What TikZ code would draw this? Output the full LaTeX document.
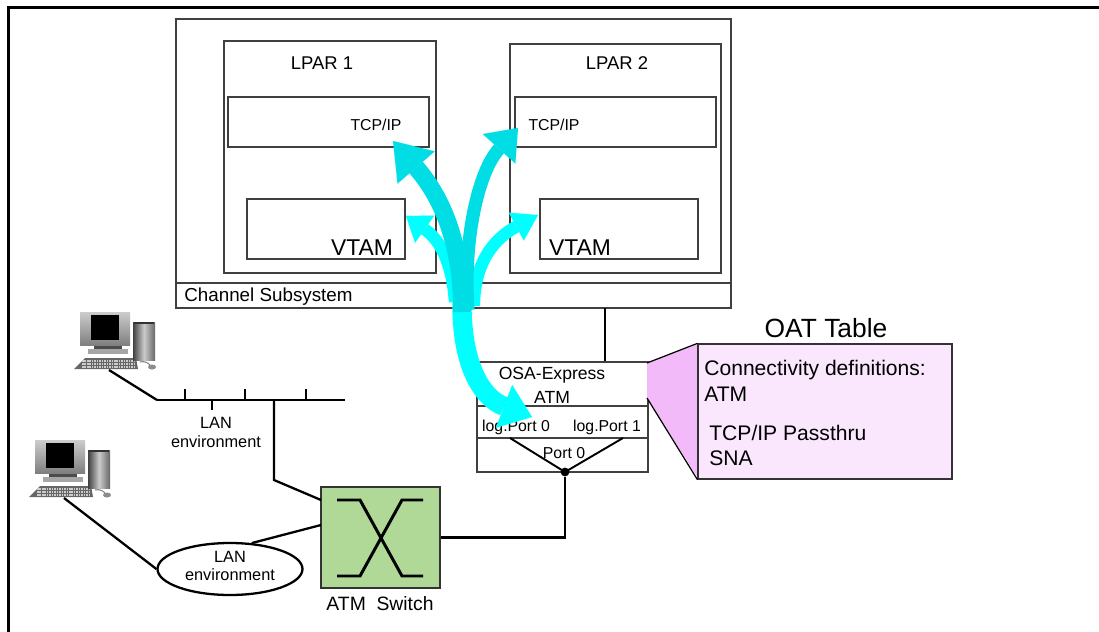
\documentclass[tikz,border=0pt]{standalone}
\usepackage{fontspec}
\setmainfont{Liberation Sans}
\usetikzlibrary{positioning,arrows.meta,fit,shapes.geometric}

\definecolor{flowdark}{RGB}{0,221,228}
\definecolor{flowlight}{RGB}{0,255,255}
\definecolor{switchgreen}{RGB}{176,216,150}
\definecolor{oatfill}{RGB}{250,231,253}
\definecolor{oatcallout}{RGB}{242,186,248}

\newcommand{\fsz}[2]{\fontsize{#1}{#2}\selectfont}

\begin{document}
\begin{tikzpicture}[
  x=0.02cm, y=-0.02cm,
  box/.style={draw=black!75, line width=0.6pt, inner sep=0pt},
  wire/.style={black, line width=1.3pt},
  txt/.style={inner sep=0pt, anchor=base, font=\fsz{10}{12}},
  flow/.style={line width=#1, line cap=butt},
  pc/.pic={
    % keyboard
    \fill[black!60] (-6,57) -- (58,57) -- (56,46) -- (5,46) -- cycle;
    \foreach \r in {49,52,55}
      \draw[black!20, line width=0.7pt, dash pattern=on 0.9pt off 0.5pt] (2,\r) -- (55,\r);
    % stand and base
    \fill[black!70] (14,33) rectangle (42,37);
    \fill[black!35] (8,37) rectangle (48,42);
    % monitor
    \shade[top color=black!20, bottom color=black!50] (0,0) rectangle (50,33);
    \fill[black] (11,3) rectangle (39,28);
    % tower
    \shade[left color=black!75, right color=black!60, middle color=black!20] (53,10) rectangle (75,48);
    \fill[black!80] (54,10) rectangle (74,12);
    % mouse
    \draw[black!50, line width=0.6pt] (60,50) to[bend left] (70,53);
    \fill[black!45] (72,55) ellipse (4 and 2.5);
    \coordinate (-cable) at (29,58);
  }
]
\useasboundingbox (0,0) rectangle (1099,632);
\draw[line width=1.8pt] (8.5,632) -- (8.5,7.5) -- (1099,7.5);

% ---------- host: channel subsystem and LPARs ----------
\node[box, fit={(176,19) (731,308)}] (css) {};
\draw[box] (176,283) -- (731,283);
\node[txt, anchor=base west, font=\fsz{10.7}{12}] (csslbl) at (184,301) {Channel Subsystem};

\node[box, fit={(224,41) (436,273)}] (lpar1) {};
\node[box, fit={(510,44) (721,273)}] (lpar2) {};
\node[txt, font=\fsz{10.5}{12}] (lpar1lbl) at (322,69) {LPAR 1};
\node[txt, font=\fsz{10.5}{12}] (lpar2lbl) at (617,69) {LPAR 2};

\node[box, fit={(228,97) (429,147)}] (tcp1) {};
\node[box, fit={(515,97) (716,147)}] (tcp2) {};
\node[txt, font=\fsz{9}{11}] (tcp1lbl) at (376,130) {TCP/IP};
\node[txt, font=\fsz{9}{11}] (tcp2lbl) at (554,130) {TCP/IP};

\node[box, fit={(247,199) (405,259)}] (vtam1) {};
\node[box, fit={(540,199) (698,259)}] (vtam2) {};
\node[txt, font=\fsz{13}{15}] (vtam1lbl) at (362,255) {VTAM};
\node[txt, font=\fsz{13}{15}] (vtam2lbl) at (580,255) {VTAM};

% ---------- OSA-Express feature ----------
\node[box, fit={(477,362) (648,472)}] (osa) {};
\draw[box] (477,406) -- (648,406);
\draw[box] (477,438) -- (648,438);
\node[txt] (osalbl) at (552,379) {OSA-Express};
\node[txt] (osaatm) at (552,403) {ATM};
\node[txt, font=\fsz{9}{11}] (lport0) at (516,431) {log.Port 0};
\node[txt, font=\fsz{9}{11}] (lport1) at (607,431) {log.Port 1};
\node[txt, font=\fsz{9}{11}] (port0) at (564,458) {Port 0};
\coordinate (lp0) at (510,438);
\coordinate (lp1) at (623,438);
\node[circle, fill=black, inner sep=0pt, minimum size=5pt] (pdot) at (565,472) {};
\draw[wire, line width=1.1pt] (lp0) -- (pdot.center) -- (lp1);

\coordinate (cssout) at (605,308);
\draw[wire, line width=1.1pt] (cssout) -- (cssout |- osa.north);

% ---------- ATM switch ----------
\node[fill=switchgreen, draw=black!80, line width=0.8pt, inner sep=0pt, fit={(321,487) (440,588)}] (sw) {};
\draw[line width=1.7pt] (337,500) -- (360,500) -- (402,576) -- (423,576);
\draw[line width=1.7pt] (337,576) -- (360,576) -- (402,500) -- (423,500);
\node[txt, font=\fsz{11}{13}] (swlbl) at (380,610) {ATM\ \ Switch};
\coordinate (swin1) at (321,500);
\coordinate (swin2) at (321,525);
\draw[wire] (sw.east) -| (pdot);

% ---------- LAN side ----------
\pic (pcA) at (80,312) {pc};
\pic (pcB) at (35,440) {pc};

\coordinate (busL) at (157,400);
\coordinate (busR) at (345,400);
\coordinate (drop) at (274,400);
\draw[wire] (busL) -- (busR);
\foreach \x in {185,245,306}
  \draw[wire] (\x,400) -- (\x,389);
\draw[wire] (212,400) -- (212,410);
\node[align=center, font=\fsz{9.3}{10.8}, inner sep=0pt] (lan1) at (216,432) {LAN\\environment};
\draw[wire] (pcA-cable) -- (busL);
\draw[wire] (drop) -- (274,480) -- (swin1);

\node[ellipse, draw=black, line width=1.3pt, minimum width=2.9cm, minimum height=1.04cm] (lan2) at (230,569) {};
\node[align=center, font=\fsz{9.3}{10.5}, inner sep=0pt] (lan2lbl) at (230,566) {LAN\\environment};
\draw[wire] (pcB-cable) -- (lan2.west);
\draw[wire] (lan2.50) -- (swin2);

% ---------- OAT table ----------
\node[txt, font=\fsz{15}{17}] (oattitle) at (826,337) {OAT Table};
\coordinate (calloutA) at (647,363);
\coordinate (calloutB) at (647,398);
\fill[oatcallout] (calloutA) -- (698,344) -- (698,478) -- (calloutB) -- cycle;
\node[fill=oatfill, draw=black!80, line width=0.7pt, inner sep=0pt, fit={(698,344) (952,479)}] (oat) {};
\draw[black, line width=0.7pt] (calloutA) -- (oat.north west);
\draw[black, line width=0.7pt] (calloutB) -- (oat.south west);
\node[txt, anchor=base west, font=\fsz{12}{14}] (oat1) at (704,375) {Connectivity definitions:};
\node[txt, anchor=base west, font=\fsz{12}{14}] (oat2) at (704,401) {ATM};
\node[txt, anchor=base west, font=\fsz{12}{14}] (oat3) at (709,440) {TCP/IP Passthru};
\node[txt, anchor=base west, font=\fsz{12}{14}] (oat4) at (709,465) {SNA};

% ---------- data flows ----------
\draw[flow=7pt, flowlight, -{Triangle[length=13pt,width=19pt,line width=0.01pt]}]
  (455,302) .. controls (452,262) and (440,240) .. (406,216);
\draw[flow=7pt, flowlight, -{Triangle[length=14pt,width=18pt,line width=0.01pt]}]
  (474,306) .. controls (474,262) and (495,238) .. (538,215);
\draw[flow=11pt, flowlight, -{Triangle[length=17pt,width=26pt,line width=0.01pt]}]
  (462,300) .. controls (461,365) and (482,398) .. (532,417);
\draw[flow=7.5pt, flowdark, -{Triangle[length=16pt,width=25pt,line width=0.01pt]}]
  (468,310) .. controls (463,240) and (478,172) .. (518,128);
\draw[flow=10pt, flowdark, -{Triangle[length=20pt,width=28pt,line width=0.01pt]}]
  (462,312) .. controls (462,240) and (440,195) .. (393,141);
\end{tikzpicture}
\end{document}
